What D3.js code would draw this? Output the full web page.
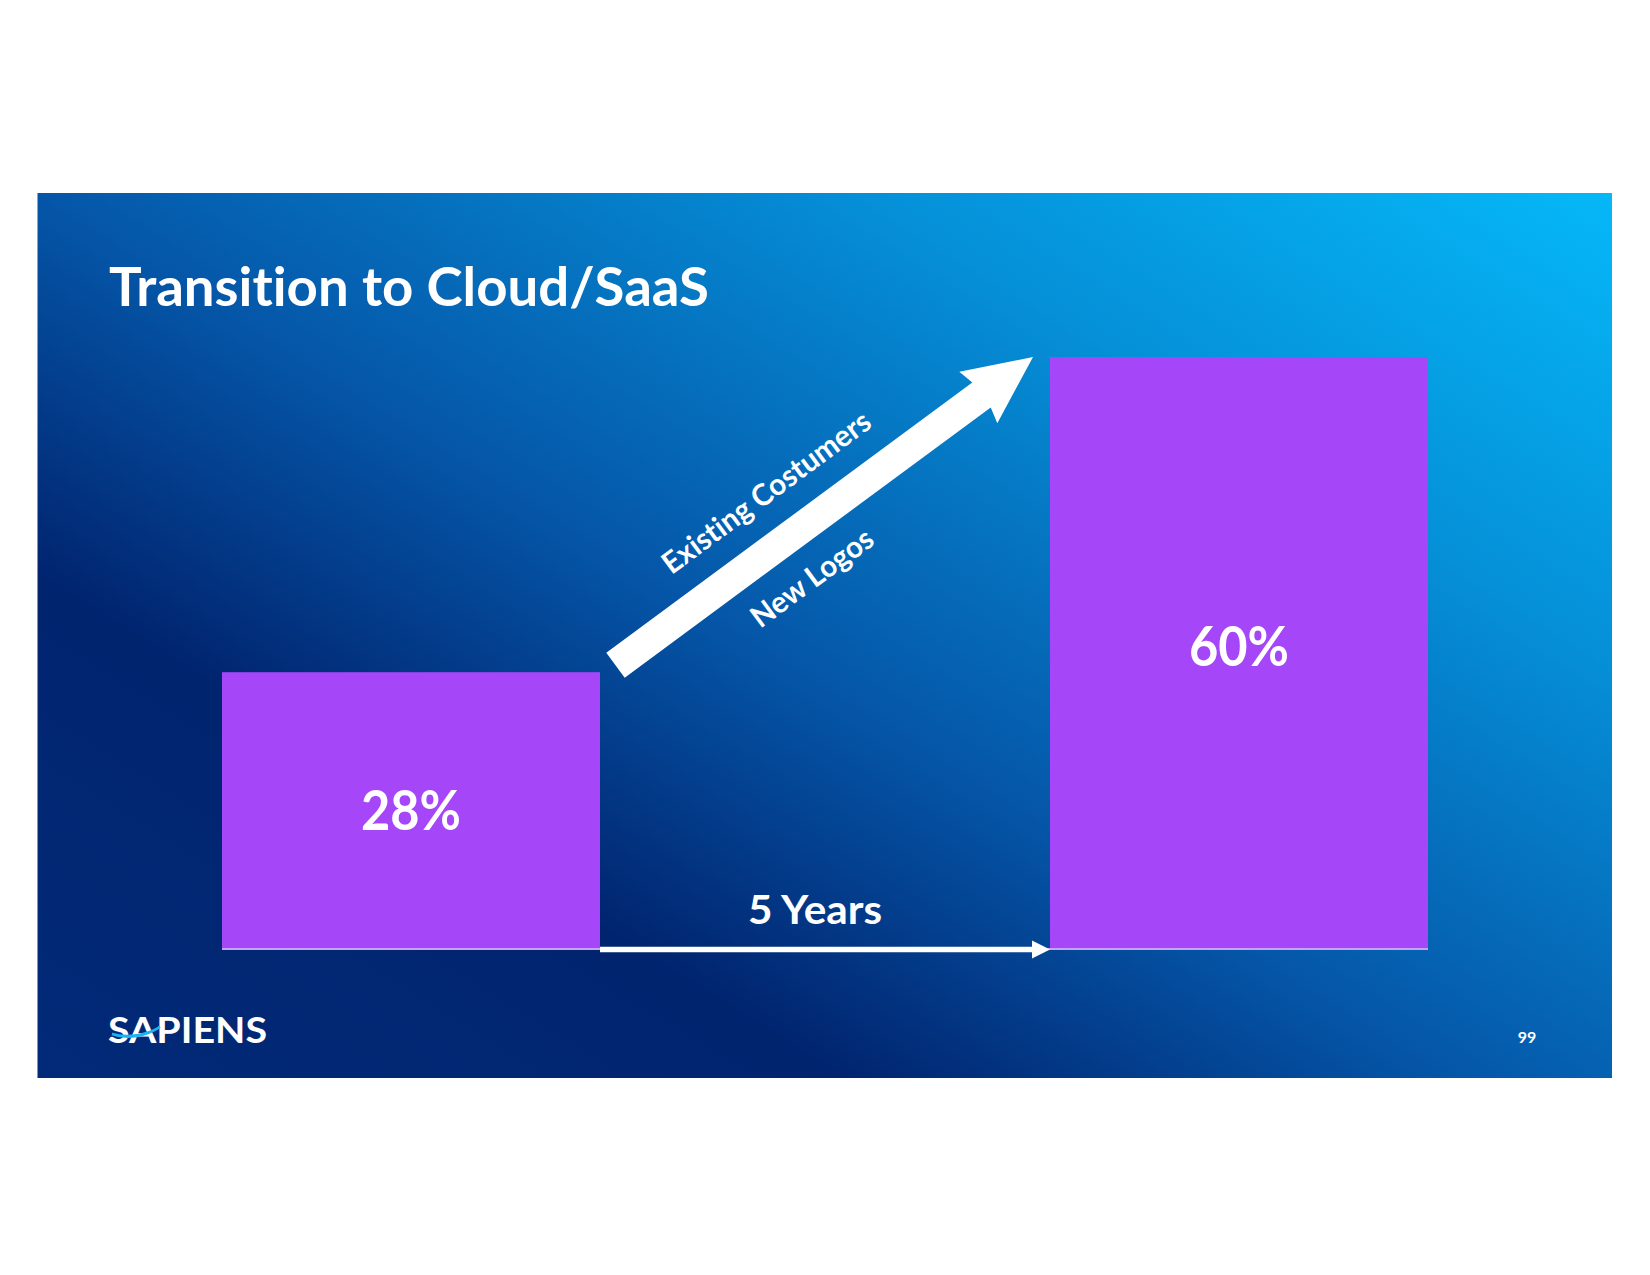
<!DOCTYPE html>
<html>
<head>
<meta charset="utf-8">
<script src="https://cdn.jsdelivr.net/npm/d3@7"></script>
<style>
  html, body { margin: 0; padding: 0; background: #ffffff; }
  svg { display: block; }
  text { font-family: Lato, "Open Sans", "DejaVu Sans", sans-serif; font-weight: 700; fill: #ffffff;
         font-variant-ligatures: none; font-feature-settings: "liga" 0, "clig" 0; }
</style>
</head>
<body>
<svg id="chart" width="1650" height="1275"></svg>
<script>
// ---- data ----
const categories = ["Today", "In 5 Years"];
const values = [28, 60];
const valueLabels = ["28%", "60%"];
const title = "Transition to Cloud/SaaS";
const periodLabel = "5 Years";
const arrowLabels = ["Existing Costumers", "New Logos"];
const pageNumber = "99";
const brand = "SAPIENS";

// ---- layout ----
const panel = { x: 37.5, y: 193, w: 1574.5, h: 885 };
const svg = d3.select("#chart");

// background gradient
const defs = svg.append("defs");
const grad = defs.append("linearGradient")
  .attr("id", "bg").attr("gradientUnits", "userSpaceOnUse")
  .attr("x1", -475).attr("y1", 762).attr("x2", 366).attr("y2", -586);
[[0, "#022a78"], [0.27, "#01246f"], [0.474, "#0556a8"], [0.75, "#0590d8"], [1, "#05b8f8"]]
  .forEach(([o, c]) => grad.append("stop").attr("offset", o).attr("stop-color", c));

svg.append("rect").attr("x", panel.x).attr("y", panel.y)
  .attr("width", panel.w).attr("height", panel.h).attr("fill", "url(#bg)");

// scales
const x = d3.scaleBand().domain(categories).range([222, 1428]).paddingInner(0.5435).paddingOuter(0);
const y = d3.scaleLinear().domain([0, 60]).range([948, 357]);
const bw = x.bandwidth();

// title
svg.append("text").attr("x", 109).attr("y", 306)
  .attr("font-size", 53).attr("textLength", 600).attr("lengthAdjust", "spacingAndGlyphs")
  .text(title);

// baseline (lavender)
svg.append("line")
  .attr("x1", x(categories[0])).attr("x2", x(categories[1]) + bw)
  .attr("y1", y(0) + 1).attr("y2", y(0) + 1)
  .attr("stroke", "#c9a2f5").attr("stroke-width", 2);

// bars
svg.selectAll("rect.bar").data(values).enter().append("rect")
  .attr("class", "bar")
  .attr("x", (d, i) => x(categories[i]))
  .attr("y", d => y(d))
  .attr("width", bw)
  .attr("height", d => y(0) - y(d))
  .attr("fill", "#a646f9");

// value labels
const labelOffsets = [0, -7];
svg.selectAll("text.val").data(values).enter().append("text")
  .attr("class", "val")
  .attr("x", (d, i) => x(categories[i]) + bw / 2)
  .attr("y", (d, i) => (y(d) + y(0)) / 2 + 20 + labelOffsets[i])
  .attr("text-anchor", "middle")
  .attr("font-size", 55)
  .attr("textLength", 100).attr("lengthAdjust", "spacingAndGlyphs")
  .text((d, i) => valueLabels[i]);

// horizontal arrow between bars
const hx1 = x(categories[0]) + bw, hx2 = x(categories[1]);
const hy = y(0) + 1.5;
svg.append("path")
  .attr("d", `M${hx1},${hy - 2.8} L${hx2 - 18},${hy - 2.8} L${hx2 - 18},${hy - 9} L${hx2},${hy} L${hx2 - 18},${hy + 9} L${hx2 - 18},${hy + 2.8} L${hx1},${hy + 2.8} Z`)
  .attr("fill", "#ffffff");

svg.append("text").attr("x", 815).attr("y", 924)
  .attr("text-anchor", "middle").attr("font-size", 41)
  .attr("textLength", 134).attr("lengthAdjust", "spacingAndGlyphs")
  .text(periodLabel);

// diagonal growth arrow
const tail = [x(categories[0]) + bw + 15.5, y(values[0]) - 7];
const tip = [x(categories[1]) - 17, y(values[1])];
const dx = tip[0] - tail[0], dy = tip[1] - tail[1];
const L = Math.hypot(dx, dy);
const ang = Math.atan2(dy, dx) * 180 / Math.PI;
const shaftW = 31, headW = 64, headL = 64;
const g = svg.append("g").attr("transform", `translate(${tail[0]},${tail[1]}) rotate(${ang})`);
g.append("path")
  .attr("d", `M0,${-shaftW/2} L${L - headL},${-shaftW/2} L${L - headL - 4},${-headW/2} L${L},0 L${L - headL - 4},${headW/2} L${L - headL},${shaftW/2} L0,${shaftW/2} Z`)
  .attr("fill", "#ffffff");

g.append("text")
  .attr("x", 224).attr("y", -50).attr("dy", "0.36em")
  .attr("text-anchor", "middle").attr("font-size", 30)
  .attr("textLength", 251).attr("lengthAdjust", "spacingAndGlyphs")
  .text(arrowLabels[0]);
g.append("text")
  .attr("x", 210).attr("y", 46).attr("dy", "0.36em")
  .attr("text-anchor", "middle").attr("font-size", 30)
  .attr("textLength", 144).attr("lengthAdjust", "spacingAndGlyphs")
  .text(arrowLabels[1]);

// brand logo
svg.append("text").attr("x", 108).attr("y", 1043)
  .attr("font-size", 37).attr("font-weight", 800)
  .attr("textLength", 159).attr("lengthAdjust", "spacingAndGlyphs")
  .text(brand);
svg.append("path")
  .attr("d", "M112,1034 C128,1040 146,1036 160,1027 C148,1034 130,1039 112,1034 Z")
  .attr("fill", "#1ab4f0").attr("stroke", "#1ab4f0").attr("stroke-width", 2.5);

// page number
svg.append("text").attr("x", 1527).attr("y", 1043)
  .attr("text-anchor", "middle").attr("font-size", 16)
  .text(pageNumber);
</script>
</body>
</html>
